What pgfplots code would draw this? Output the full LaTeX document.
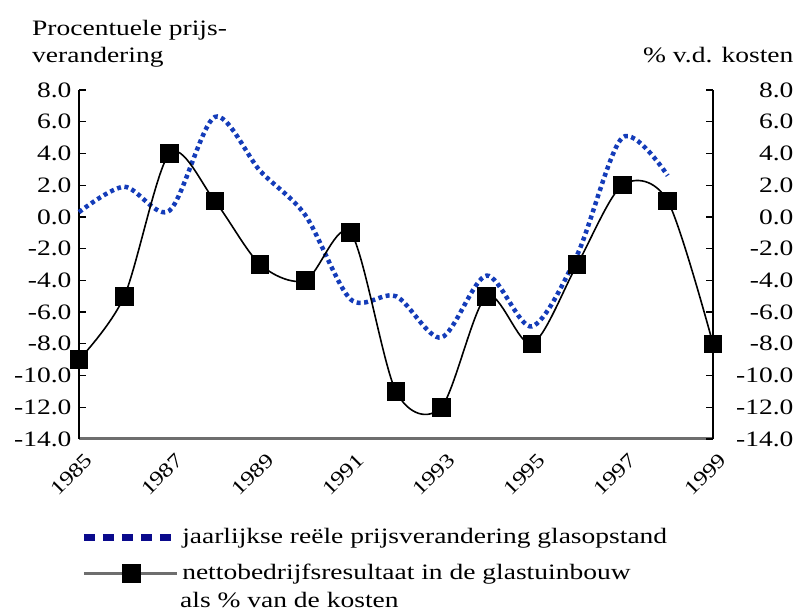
\documentclass[border=0pt]{standalone}
\usepackage{pgfplots}
\pgfplotsset{compat=1.18}
\usepackage{fontspec}
\setmainfont{Liberation Serif}[FakeStretch=1.25]
\definecolor{plotblue}{RGB}{20,60,185}
\definecolor{legblue}{RGB}{10,10,140}
\definecolor{axgray}{RGB}{110,110,110}
\begin{document}
\fontsize{22bp}{26bp}\selectfont
\begin{tikzpicture}
\useasboundingbox (0bp,0bp) rectangle (797bp,615bp);
\begin{axis}[
  at={(79bp,176bp)}, anchor=south west,
  width=634bp, height=349bp, scale only axis,
  xmin=1985, xmax=1999, ymin=-14, ymax=8,
  clip=false,
  axis x line*=bottom, axis y line*=left,
  xtick={1985,1987,...,1999},
  xticklabels={1985,1987,1989,1991,1993,1995,1997,1999},
  xticklabel style={font=\fontsize{20bp}{24bp}\selectfont, inner sep=1bp, xshift=11bp, yshift=-17bp, rotate=45, anchor=east},
  xtick style={draw=none},
  ytick={-14,-12,...,8},
  yticklabels={-14.0,-12.0,-10.0,-8.0,-6.0,-4.0,-2.0,0.0,2.0,4.0,6.0,8.0},
  yticklabel style={font=\fontsize{22bp}{26bp}\selectfont},
  tick align=inside, major tick length=7bp,
  ytick style={black, line width=1.2bp},
  x axis line style={axgray, line width=3bp},
  y axis line style={black, line width=1.5bp},
  legend style={at={(axis description cs:-0.003,-0.245)}, anchor=north west,
    draw=none, fill=none, row sep=13bp, font=\fontsize{22bp}{26bp}\selectfont},
  legend cell align=left,
]
\addplot[plotblue, line width=4.5bp, dash pattern=on 4bp off 3.5bp, smooth, tension=0.5,
  legend image code/.code={\draw[legblue, line width=7bp, dash pattern=on 11bp off 8bp] (0bp,0bp) -- (93bp,0bp);}]
  coordinates {
  (1985,0.3) (1986,1.9) (1987,0.4) (1988,6.3) (1989,2.9) (1990,0.1) (1991,-5.2)
  (1992,-5.0) (1993,-7.6) (1994,-3.7) (1995,-6.9) (1996,-2.4) (1997,5.0) (1998,2.6)
  };
\addlegendentry{jaarlijkse reële prijsverandering glasopstand}
\addplot[black, line width=1.6bp, smooth, tension=0.5, mark=square*, mark size=8.5bp,
  mark options={solid, fill=black},
  legend image code/.code={\draw[axgray, line width=2.5bp] (0bp,0bp) -- (93bp,0bp);
    \draw[black, fill=black, mark size=8.5bp] plot[mark=square*] coordinates {(48bp,0bp)};}]
  coordinates {
  (1985,-9) (1986,-5) (1987,4) (1988,1) (1989,-3) (1990,-4) (1991,-1) (1992,-11)
  (1993,-12) (1994,-5) (1995,-8) (1996,-3) (1997,2) (1998,1) (1999,-8)
  };
\addlegendentry{nettobedrijfsresultaat in de glastuinbouw}
\end{axis}
\begin{axis}[
  at={(79bp,176bp)}, anchor=south west,
  width=634bp, height=349bp, scale only axis,
  xmin=1985, xmax=1999, ymin=-14, ymax=8,
  axis x line=none, axis y line*=right,
  ytick={-14,-12,...,8},
  yticklabels={-14.0,-12.0,-10.0,-8.0,-6.0,-4.0,-2.0,0.0,2.0,4.0,6.0,8.0},
  yticklabel style={anchor=east, xshift=88bp, font=\fontsize{22bp}{26bp}\selectfont},
  tick align=inside, major tick length=7bp,
  ytick style={black, line width=1.2bp},
  y axis line style={black, line width=1.5bp},
]
\end{axis}
\node[anchor=base west, inner sep=0pt] at (32bp,579bp) {Procentuele prijs-};
\node[anchor=base west, inner sep=0pt] at (32bp,552bp) {verandering};
\node[anchor=base west, inner sep=0pt] at (643bp,552bp) {\% v.d. kosten};
\node[anchor=base west, inner sep=0pt] at (180bp,8bp) {als \% van de kosten};
\end{tikzpicture}
\end{document}
